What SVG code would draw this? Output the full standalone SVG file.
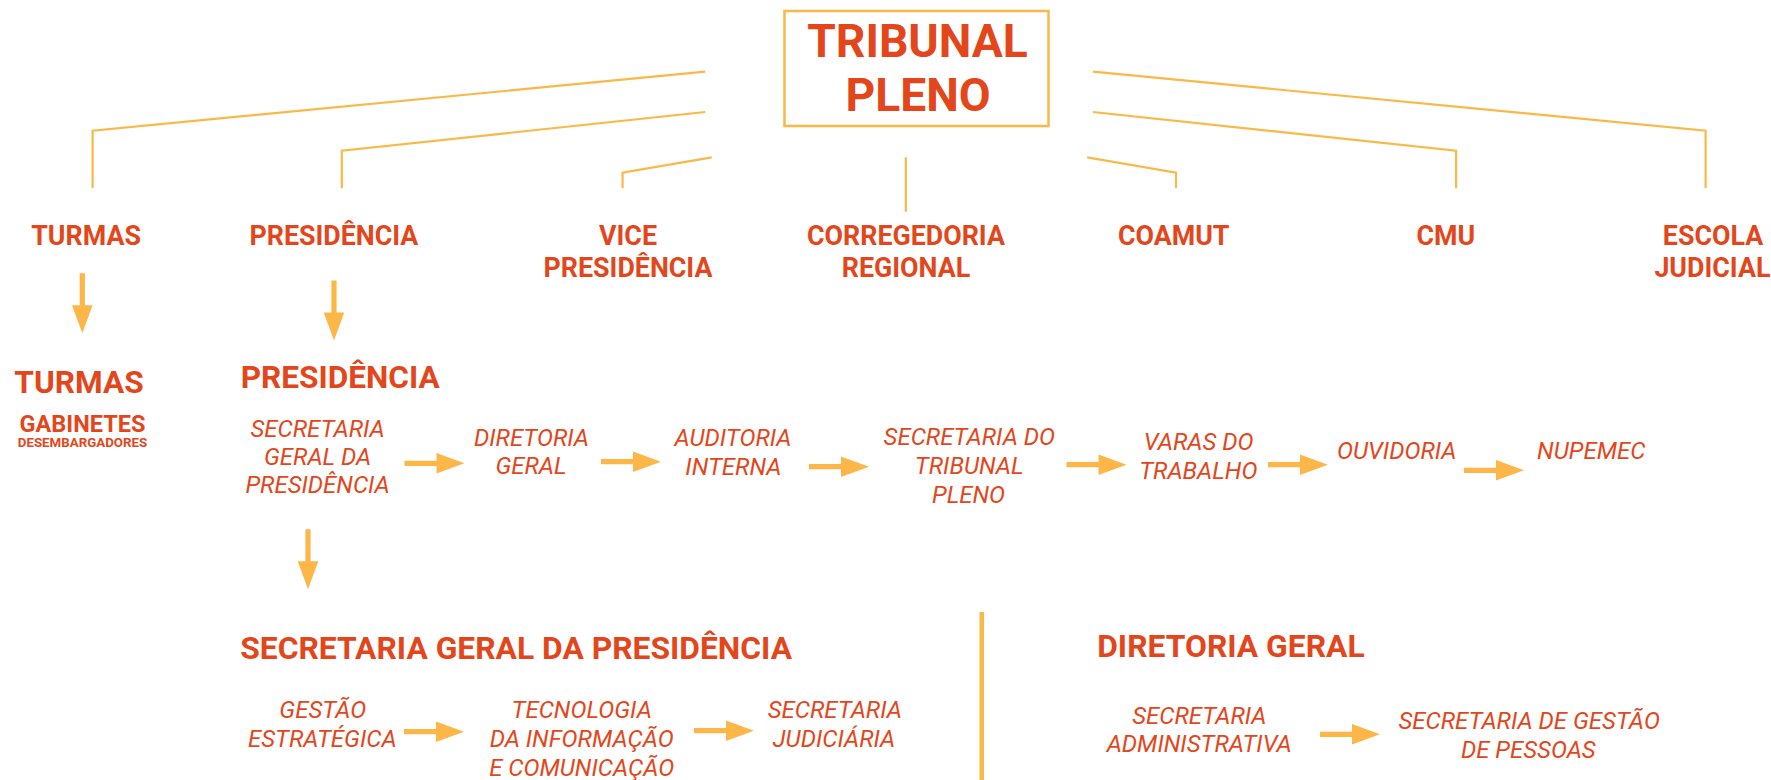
<svg xmlns="http://www.w3.org/2000/svg" xmlns:xlink="http://www.w3.org/1999/xlink" width="1771" height="780" viewBox="0 0 1771 780">
<style>
.ln{fill:none;stroke:#FBB846;stroke-width:2.2}
.ar{fill:#FDB748}
.t{font-family:Roboto,"Liberation Sans",sans-serif;fill:#E4461B;text-anchor:middle}
.b{font-weight:700}
.h1{font-size:46.2px}
.l1{font-size:26.8px}
.l2{font-size:31.6px}
.l3{font-size:31.8px}
.i{font-style:italic;font-weight:400;font-size:24px}
.st{text-anchor:start}
</style>
<defs>
<path id="harr" d="M0,-2.6 H32 V-10.3 L60,0 L32,10.3 V2.6 H0 Z"/>
<path id="varr" d="M-2.6,0 V32 H-10.3 L0,60 L10.3,32 H2.6 V0 Z"/>
</defs>
<rect width="1771" height="780" fill="#fff"/>

<g id="connectors">
<polyline class="ln" points="92.6,188.3 92.6,130.7 705.2,71.7"/>
<polyline class="ln" points="341.8,188.3 341.8,150.7 705.2,112"/>
<polyline class="ln" points="622.6,188.3 622.6,172.7 711.7,157.3"/>
<line class="ln" x1="905.8" y1="157.3" x2="905.8" y2="211.7"/>
<polyline class="ln" points="1087.2,157.3 1176,172.7 1176,188.3"/>
<polyline class="ln" points="1092.9,112 1456.1,150.7 1456.1,188.3"/>
<polyline class="ln" points="1092.9,71.7 1705.6,130.7 1705.6,188.3"/>
<g class="ar">
<use xlink:href="#varr" transform="translate(82.3,273.3)"/>
<use xlink:href="#varr" transform="translate(334,280.5)"/>
<use xlink:href="#varr" transform="translate(308,529.3)"/>
<use xlink:href="#harr" transform="translate(404.5,463.3)"/>
<use xlink:href="#harr" transform="translate(601,461.7)"/>
<use xlink:href="#harr" transform="translate(809,466.7)"/>
<use xlink:href="#harr" transform="translate(1066.5,464.7)"/>
<use xlink:href="#harr" transform="translate(1268,464.7)"/>
<use xlink:href="#harr" transform="translate(1464,470.3)"/>
<use xlink:href="#harr" transform="translate(404,731.7)"/>
<use xlink:href="#harr" transform="translate(694,730.7)"/>
<use xlink:href="#harr" transform="translate(1320,734.3)"/>
</g>
<rect id="divider" class="ar" x="979.5" y="612" width="4.5" height="168"/>
</g>

<g id="tribunal-pleno">
<rect x="784.5" y="11" width="264" height="115" fill="none" stroke="#FBB846" stroke-width="2.5"/>
<text class="t b h1" x="917.5" y="57.3">TRIBUNAL</text>
<text class="t b h1" x="918" y="111">PLENO</text>
</g>

<g id="turmas"><text class="t b l1" x="86.1" y="245">TURMAS</text></g>
<g id="presidencia"><text class="t b l1" x="333.9" y="245">PRESIDÊNCIA</text></g>
<g id="vice-presidencia"><text class="t b l1" x="628" y="245">VICE</text><text class="t b l1" x="628" y="277">PRESIDÊNCIA</text></g>
<g id="corregedoria"><text class="t b l1" x="906" y="245">CORREGEDORIA</text><text class="t b l1" x="906" y="277">REGIONAL</text></g>
<g id="coamut"><text class="t b l1" x="1173.7" y="245">COAMUT</text></g>
<g id="cmu"><text class="t b l1" x="1445.8" y="245">CMU</text></g>
<g id="escola-judicial"><text class="t b l1" x="1713" y="245">ESCOLA</text><text class="t b l1" x="1712.4" y="276.5">JUDICIAL</text></g>

<g id="turmas-detalhe">
<text class="t b l2" x="79" y="393.3">TURMAS</text>
<text class="t b" style="font-size:23.5px" x="82.5" y="431.5">GABINETES</text>
<text class="t b" style="font-size:13.3px" x="82.5" y="446.7">DESEMBARGADORES</text>
</g>

<g id="presidencia-detalhe">
<text class="t b l2" x="340.2" y="387.7">PRESIDÊNCIA</text>
</g>

<g id="sec-geral-presidencia">
<text class="t i" x="317.6" y="436.7">SECRETARIA</text>
<text class="t i" x="317.6" y="464.5">GERAL DA</text>
<text class="t i" x="317.6" y="493.3">PRESIDÊNCIA</text>
</g>
<g id="diretoria-geral">
<text class="t i" x="531.5" y="445.7">DIRETORIA</text>
<text class="t i" x="531" y="474.3">GERAL</text>
</g>
<g id="auditoria-interna">
<text class="t i" x="733" y="445.7">AUDITORIA</text>
<text class="t i" x="733.4" y="475">INTERNA</text>
</g>
<g id="secretaria-tribunal-pleno">
<text class="t i" x="969.3" y="445">SECRETARIA DO</text>
<text class="t i" x="969.2" y="474.3">TRIBUNAL</text>
<text class="t i" x="968.6" y="503.3">PLENO</text>
</g>
<g id="varas-trabalho">
<text class="t i" x="1198.6" y="450">VARAS DO</text>
<text class="t i" x="1198.3" y="479">TRABALHO</text>
</g>
<g id="ouvidoria"><text class="t i" x="1396.7" y="459">OUVIDORIA</text></g>
<g id="nupemec"><text class="t i" x="1591.2" y="459">NUPEMEC</text></g>

<g id="sgp-titulo"><text class="t b l3 st" x="240.2" y="659">SECRETARIA GERAL DA PRESIDÊNCIA</text></g>
<g id="gestao-estrategica">
<text class="t i" x="322.8" y="718.3">GESTÃO</text>
<text class="t i" x="322.3" y="747.3">ESTRATÉGICA</text>
</g>
<g id="tic">
<text class="t i" x="581.7" y="718.3">TECNOLOGIA</text>
<text class="t i" x="581.7" y="747.3">DA INFORMAÇÃO</text>
<text class="t i" x="581.7" y="776">E COMUNICAÇÃO</text>
</g>
<g id="secretaria-judiciaria">
<text class="t i" x="834.8" y="718.3">SECRETARIA</text>
<text class="t i" x="834" y="747.3">JUDICIÁRIA</text>
</g>

<g id="dg-titulo"><text class="t b l3 st" x="1097.2" y="656.7">DIRETORIA GERAL</text></g>
<g id="secretaria-administrativa">
<text class="t i" x="1199.4" y="724">SECRETARIA</text>
<text class="t i" x="1199.2" y="752.3">ADMINISTRATIVA</text>
</g>
<g id="secretaria-gestao-pessoas">
<text class="t i" x="1529.2" y="729.3">SECRETARIA DE GESTÃO</text>
<text class="t i" x="1528.3" y="758.3">DE PESSOAS</text>
</g>
</svg>
